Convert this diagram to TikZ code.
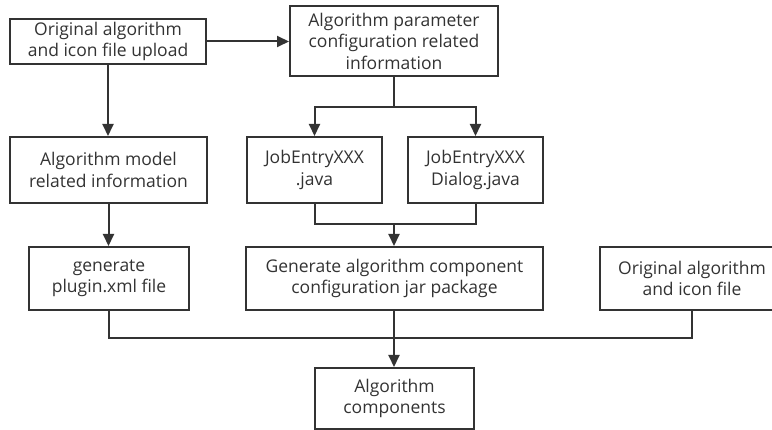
\documentclass[tikz,border=0pt]{standalone}
\usepackage{fontspec}
\setmainfont{Open Sans}
\usetikzlibrary{arrows.meta}
\begin{document}
\begin{tikzpicture}[x=1pt,y=-1pt,
  box/.style={draw=black!80, line width=2pt, fill=white, rectangle, align=center, inner sep=0pt,
    font=\fontsize{17.5}{21.5}\selectfont, text=black!80},
  conn/.style={draw=black!80, line width=2pt},
  arr/.style={conn, -{Triangle[length=12pt,width=11pt]}}]
\useasboundingbox (0,0) rectangle (772,430);
\node[box, minimum width=196pt, minimum height=45pt] (A) at (108,41.5) {Original algorithm\\and icon file upload};
\node[box, minimum width=208pt, minimum height=70pt] (B) at (394,41) {Algorithm parameter\\configuration related\\information};
\node[box, minimum width=197pt, minimum height=66pt] (C) at (108.5,170) {Algorithm model\\related information};
\node[box, minimum width=135pt, minimum height=66pt] (D) at (314.5,170) {JobEntryXXX\\.java};
\node[box, minimum width=135pt, minimum height=66pt] (E) at (475.5,170) {JobEntryXXX\\Dialog.java};
\node[box, minimum width=160pt, minimum height=63pt] (F) at (109,278.5) {generate\\plugin.xml file};
\node[box, minimum width=297pt, minimum height=63pt] (G) at (394.5,278.5) {Generate algorithm component\\configuration jar package};
\node[box, minimum width=184pt, minimum height=63pt] (H) at (692,278.5) {Original algorithm\\and icon file};
\node[box, minimum width=159pt, minimum height=61pt] (I) at (394.5,398.5) {Algorithm\\components};
\coordinate (b1) at (394,107);
\coordinate (j1) at (394,224);
\coordinate (j2) at (394,338);
\draw[arr] (A.east) -- (B.west |- A.east);
\draw[arr] (A.south) -- (C.north -| A.south);
\draw[conn] (B.south) -- (b1);
\draw[arr] (b1) -| (D.north);
\draw[arr] (b1) -| (E.north);
\draw[conn] (D.south) |- (j1);
\draw[conn] (E.south) |- (j1);
\draw[arr] (j1) -- (G.north -| j1);
\draw[arr] (C.south) -- (F.north -| C.south);
\draw[conn] (F.south -| C.south) |- (j2);
\draw[conn] (H.south) |- (j2);
\draw[arr] (G.south -| j1) -- (I.north -| j1);
\end{tikzpicture}
\end{document}
